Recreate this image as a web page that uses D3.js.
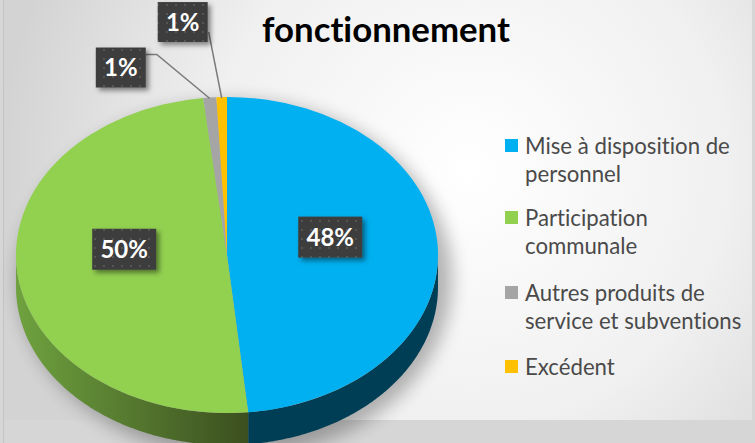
<!DOCTYPE html>
<html>
<head>
<meta charset="utf-8">
<script src="https://cdn.jsdelivr.net/npm/d3@7"></script>
<style>
  body { margin: 0; background: #d6d6d6; }
  svg { display: block; }
  text { font-variant-ligatures: none; font-feature-settings: "liga" 0; }
</style>
</head>
<body>
<div id="chart"></div>
<script>
// data
var categories = ["Mise à disposition de personnel", "Participation communale", "Autres produits de service et subventions", "Excédent"];
var legendLines = [["Mise à disposition de", "personnel"], ["Participation", "communale"], ["Autres produits de", "service et subventions"], ["Excédent"]];
var values = [48.4, 49.8, 1.0, 0.8];
var labels = ["48%", "50%", "1%", "1%"];
var colors = ["#00B0F0", "#92D050", "#A5A5A5", "#FFC000"];
var sideColors = [["#00566f", "#003e55"], ["#6fa23f", "#3b4f1f"], ["#6e6e6e", "#5a5a5a"], ["#b88a00", "#a07800"]];
var title = "fonctionnement";

var W = 755, H = 443;
var cx = 227, cy = 255, rx = 211, ry = 158, depth = 32;

var svg = d3.select("#chart").append("svg")
    .attr("width", W)
    .attr("height", H)
    .style("font-family", "Lato, 'Open Sans', sans-serif");

var defs = svg.append("defs");

var bg = defs.append("radialGradient")
    .attr("id", "bg")
    .attr("gradientUnits", "userSpaceOnUse")
    .attr("cx", 470).attr("cy", 170).attr("r", 470);
bg.append("stop").attr("offset", "0").attr("stop-color", "#ffffff");
bg.append("stop").attr("offset", "0.55").attr("stop-color", "#f0f0f0");
bg.append("stop").attr("offset", "1").attr("stop-color", "#d3d3d3");

var blur = defs.append("filter").attr("id", "pieShadow")
    .attr("x", "-20%").attr("y", "-20%").attr("width", "140%").attr("height", "140%");
blur.append("feGaussianBlur").attr("stdDeviation", 9);

var boxShadow = defs.append("filter").attr("id", "boxShadow")
    .attr("x", "-30%").attr("y", "-30%").attr("width", "160%").attr("height", "160%");
boxShadow.append("feDropShadow")
    .attr("dx", 3).attr("dy", 3).attr("stdDeviation", 2.5)
    .attr("flood-color", "#000").attr("flood-opacity", 0.45);

var dots = defs.append("pattern")
    .attr("id", "dots")
    .attr("patternUnits", "userSpaceOnUse")
    .attr("width", 9).attr("height", 9);
dots.append("rect").attr("width", 9).attr("height", 9).attr("fill", "#3e3e3e");
dots.append("rect").attr("x", 4).attr("y", 4).attr("width", 2).attr("height", 2).attr("fill", "#555555");

sideColors.forEach(function (c, i) {
    var g = defs.append("linearGradient")
        .attr("id", "side" + i)
        .attr("gradientUnits", "userSpaceOnUse")
        .attr("x1", cx - rx).attr("x2", cx + 20).attr("y1", 0).attr("y2", 0);
    g.append("stop").attr("offset", "0").attr("stop-color", c[0]);
    g.append("stop").attr("offset", "1").attr("stop-color", c[1]);
});

// background / chart area
svg.append("rect").attr("width", W).attr("height", H).attr("fill", "#d6d6d6");
svg.append("rect")
    .attr("x", 4).attr("y", 0)
    .attr("width", 748).attr("height", 420)
    .attr("fill", "url(#bg)");
svg.append("line")
    .attr("x1", 3.5).attr("x2", 3.5).attr("y1", 0).attr("y2", H)
    .attr("stroke", "#c4c4c4");

var pie = d3.pie().sort(null).value(function (d) { return d; });
var arcs = pie(values);

function pt(a, dy) {
    return [cx + rx * Math.sin(a), cy - ry * Math.cos(a) + (dy || 0)];
}

// soft shadow under the pie
svg.append("ellipse")
    .attr("cx", cx + 8).attr("cy", cy + depth / 2 + 8)
    .attr("rx", rx + 6).attr("ry", ry + depth / 2 + 4)
    .attr("fill", "#000")
    .attr("opacity", 0.28)
    .attr("filter", "url(#pieShadow)");

// side walls (only front half is visible)
var line = d3.line();
var sides = svg.append("g").attr("class", "sides");
arcs.forEach(function (d, i) {
    var a0 = Math.max(d.startAngle, Math.PI / 2),
        a1 = Math.min(d.endAngle, 3 * Math.PI / 2);
    if (a1 <= a0) return;
    var steps = d3.range(a0, a1, 0.01).concat([a1]);
    var top = steps.map(function (a) { return pt(a, 0); });
    var bottom = steps.slice().reverse().map(function (a) { return pt(a, depth); });
    sides.append("path")
        .attr("d", line(top.concat(bottom)) + "Z")
        .attr("fill", "url(#side" + i + ")");
});

// top faces
var arc = d3.arc().innerRadius(0).outerRadius(rx);
svg.append("g")
    .attr("transform", "translate(" + cx + "," + cy + ") scale(1," + (ry / rx) + ")")
    .selectAll("path")
    .data(arcs)
    .enter().append("path")
    .attr("d", arc)
    .attr("fill", function (d, i) { return colors[i]; });

// data labels
var bigBox = {w: 64, h: 41}, smallBox = {w: 50, h: 40};
var callouts = {2: {dx: -89, dy: -30}, 3: {dx: -39, dy: -75}};

var labelG = svg.append("g").attr("class", "labels");
arcs.forEach(function (d, i) {
    var mid = (d.startAngle + d.endAngle) / 2;
    var c, box;
    if (callouts[i]) {
        var rim = pt(mid, 0);
        box = smallBox;
        c = [rim[0] + callouts[i].dx, rim[1] + callouts[i].dy];
        var right = c[0] + box.w / 2;
        var lead = i === 2
            ? "M" + right + "," + (c[1] - box.h / 2 + 7) + "H" + (right + 11) + "L" + rim[0] + "," + (rim[1] + 1)
            : "M" + (right + 1) + "," + (c[1] + 10) + "L" + rim[0] + "," + (rim[1] + 1);
        labelG.append("path")
            .attr("d", lead)
            .attr("fill", "none")
            .attr("stroke", "#7a7a7a")
            .attr("stroke-width", 1.5);
    } else {
        box = bigBox;
        c = [cx + rx * 0.49 * Math.sin(mid), cy - ry * 0.49 * Math.cos(mid) - 14];
    }
    labelG.append("rect")
        .attr("x", c[0] - box.w / 2).attr("y", c[1] - box.h / 2)
        .attr("width", box.w).attr("height", box.h)
        .attr("fill", "url(#dots)")
        .attr("filter", "url(#boxShadow)");
    labelG.append("text")
        .attr("x", c[0]).attr("y", c[1])
        .attr("dy", "0.36em")
        .attr("text-anchor", "middle")
        .attr("fill", "#fff")
        .attr("font-weight", "bold")
        .attr("font-size", 24)
        .text(labels[i]);
});

// title
var t = svg.append("text")
    .attr("x", 386).attr("y", 42)
    .attr("text-anchor", "middle")
    .attr("font-weight", "bold")
    .attr("font-size", 32)
    .attr("fill", "#000")
    .text(title);
var tw = t.node().getComputedTextLength();
t.attr("font-size", 32 * 248 / tw);

// legend
var legend = svg.append("g").attr("class", "legend");
var entryY = [146, 218, 293, 367];
var fs = 20;
legendLines.forEach(function (lines, i) {
    var y0 = entryY[i];
    legend.append("rect")
        .attr("x", 505).attr("y", y0 - 7)
        .attr("width", 13).attr("height", 13)
        .attr("fill", colors[i]);
    lines.forEach(function (s, j) {
        legend.append("text")
            .attr("class", "lg")
            .attr("x", 525).attr("y", y0 + j * 28)
            .attr("dy", "0.35em")
            .attr("font-size", fs)
            .attr("fill", "#4a4a4a")
            .text(s);
    });
});
var probe = legend.select("text.lg").node().getComputedTextLength();
legend.selectAll("text.lg").attr("font-size", fs * 205 / probe);
</script>
</body>
</html>
